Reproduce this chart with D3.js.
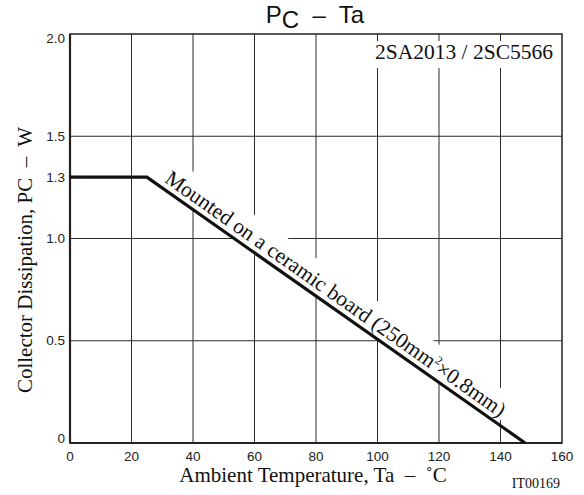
<!DOCTYPE html>
<html>
<head>
<meta charset="utf-8">
<script src="https://cdn.jsdelivr.net/npm/d3@7"></script>
<style>
  body { margin: 0; background: #fff; }
  svg { display: block; }
  .serif { font-family: "Liberation Serif", "DejaVu Serif", serif; }
  .sans { font-family: "Liberation Sans", Arial, sans-serif; }
</style>
</head>
<body>
<div id="chart"></div>
<script>
// derating curve
var tempC = [0, 25, 148];
var powerW = [1.3, 1.3, 0];

var xTicks = [0, 20, 40, 60, 80, 100, 120, 140, 160];
var yTicks = [0, 0.5, 1.0, 1.3, 1.5, 2.0];
var xGrid = [20, 40, 60, 80, 100, 120, 140];
var yGrid = [0.5, 1.0, 1.5];

var margin = {top: 34, right: 22, bottom: 52, left: 70};
var width = 584 - margin.left - margin.right,
    height = 495 - margin.top - margin.bottom;

var svg = d3.select("#chart")
    .append("svg")
    .attr("width", 584)
    .attr("height", 495);

var g = svg.append("g")
    .attr("transform", "translate(" + margin.left + "," + margin.top + ")");

var x = d3.scaleLinear().domain([0, 160]).range([0, width]);
var y = d3.scaleLinear().domain([0, 2.0]).range([height, 0]);

// grid
g.selectAll(".vgrid").data(xGrid).enter().append("line")
    .attr("x1", function(d) { return x(d); })
    .attr("x2", function(d) { return x(d); })
    .attr("y1", 0).attr("y2", height)
    .style("stroke", "#2a2a2a").style("stroke-width", 1);

g.selectAll(".hgrid").data(yGrid).enter().append("line")
    .attr("x1", 0).attr("x2", width)
    .attr("y1", function(d) { return y(d); })
    .attr("y2", function(d) { return y(d); })
    .style("stroke", "#2a2a2a").style("stroke-width", 1);

// part number label, white box hides grid under it
var partLabel = g.append("text")
    .attr("class", "serif")
    .attr("x", width - 9)
    .attr("y", 25)
    .attr("text-anchor", "end")
    .style("font-size", "21.5px")
    .style("fill", "#111")
    .text("2SA2013 / 2SC5566");
var pb = partLabel.node().getBBox();
g.insert("rect", function() { return partLabel.node(); })
    .attr("x", pb.x - 2).attr("y", pb.y + 1)
    .attr("width", pb.width + 4).attr("height", pb.height + 3)
    .style("fill", "#fff");

// sloped note along the curve
var p0 = [x(tempC[1]), y(powerW[1])],
    p1 = [x(tempC[2]), y(powerW[2])];
var angle = Math.atan2(p1[1] - p0[1], p1[0] - p0[0]) * 180 / Math.PI;

var noteG = g.append("g")
    .attr("transform", "translate(" + p0[0] + "," + p0[1] + ") rotate(" + angle + ")");
var noteBg = noteG.append("rect").style("fill", "#fff");
var note = noteG.append("text")
    .attr("class", "serif")
    .attr("x", 16)
    .attr("y", -6)
    .style("font-size", "21.5px")
    .style("fill", "#111");
note.append("tspan").text("Mounted on a ceramic board (250mm");
note.append("tspan").attr("dy", -8).style("font-size", "12px").text("2");
note.append("tspan").attr("dy", 8).text("\u00d70.8mm)");
var nb = note.node().getBBox();
noteBg.attr("x", nb.x - 2).attr("y", nb.y - 6)
    .attr("width", nb.width + 4).attr("height", -(nb.y - 6));

// frame
g.append("rect")
    .attr("width", width).attr("height", height)
    .style("fill", "none").style("stroke", "#222").style("stroke-width", 1.5);
g.append("line").attr("x1", 0).attr("x2", 0).attr("y1", 0).attr("y2", height)
    .style("stroke", "#222").style("stroke-width", 2.2);
g.append("line").attr("x1", 0).attr("x2", width).attr("y1", height).attr("y2", height)
    .style("stroke", "#222").style("stroke-width", 2.2);

// curve
var line = d3.line()
    .x(function(d, i) { return x(tempC[i]); })
    .y(function(d, i) { return y(powerW[i]); });
g.append("path")
    .datum(tempC)
    .attr("d", line)
    .style("fill", "none")
    .style("stroke", "#111")
    .style("stroke-width", 3.2);

// tick labels
g.selectAll(".xtick").data(xTicks).enter().append("text")
    .attr("class", "sans")
    .attr("x", function(d) { return x(d); })
    .attr("y", height + 18)
    .attr("text-anchor", "middle")
    .style("font-size", "13.5px")
    .style("fill", "#222")
    .text(function(d) { return d; });

g.selectAll(".ytick").data(yTicks).enter().append("text")
    .attr("class", "sans")
    .attr("x", -5)
    .attr("y", function(d) { return Math.min(height - 5, Math.max(4, y(d))); })
    .attr("dy", "0.35em")
    .attr("text-anchor", "end")
    .style("font-size", "13.5px")
    .style("fill", "#222")
    .text(function(d) { return d === 0 ? "0" : d3.format(".1f")(d); });

// title
var title = svg.append("text")
    .attr("class", "sans")
    .attr("x", 315)
    .attr("y", 23)
    .attr("text-anchor", "middle")
    .style("font-size", "24px")
    .style("fill", "#111")
    .style("white-space", "pre");
title.append("tspan").text("P");
title.append("tspan").attr("dy", 5).text("C");
title.append("tspan").attr("dy", -5).text("  \u2013  Ta");

// axis titles
svg.append("text")
    .attr("class", "serif")
    .attr("x", 313)
    .attr("y", 482)
    .attr("text-anchor", "middle")
    .style("font-size", "21px")
    .style("fill", "#111")
    .style("white-space", "pre")
    .text("Ambient Temperature, Ta  \u2013  \u02daC");

svg.append("text")
    .attr("class", "serif")
    .attr("transform", "translate(32,260) rotate(-90)")
    .attr("text-anchor", "middle")
    .style("font-size", "21px")
    .style("fill", "#111")
    .style("white-space", "pre")
    .text("Collector Dissipation, PC  \u2013  W");

svg.append("text")
    .attr("class", "serif")
    .attr("x", 560)
    .attr("y", 488)
    .attr("text-anchor", "end")
    .style("font-size", "14px")
    .style("fill", "#111")
    .text("IT00169");
</script>
</body>
</html>
